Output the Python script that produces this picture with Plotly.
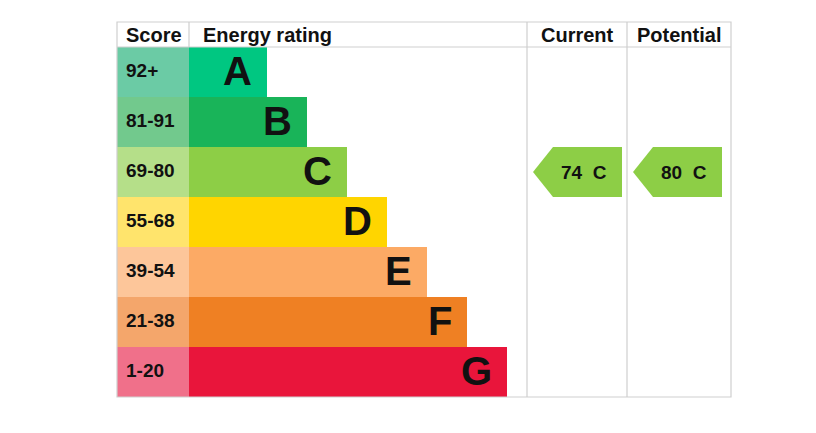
import plotly.graph_objects as go

# ---- data ----
bands = ["A", "B", "C", "D", "E", "F", "G"]
score_ranges = ["92+", "81-91", "69-80", "55-68", "39-54", "21-38", "1-20"]
bar_lengths = [78, 118, 158, 198, 238, 278, 318]
bar_colors = ["#00c781", "#19b459", "#8dce46", "#ffd500", "#fcaa65", "#ef8023", "#e9153b"]
score_colors = ["#6bcba5", "#72c98d", "#b5df89", "#ffe46c", "#fdc69a", "#f4a66b", "#f0708a"]
current_score, current_band = 74, "C"
potential_score, potential_band = 80, "C"
headers = ["Score", "Energy rating", "Current", "Potential"]

# ---- layout constants (pixel-like units on x, row units on y) ----
W, H = 816, 433
PAGE_OFF = 8  # page body margin
TABLE_L, SCORE_R, CUR_L, POT_L, TABLE_R = 117, 189, 527, 627, 731
ROW_PX = 50
TOP_PX = 22
HEADER_PX = 25
first_center_px = TOP_PX + HEADER_PX + ROW_PX / 2
y_min = (PAGE_OFF - first_center_px) / ROW_PX
y_max = (PAGE_OFF + H - first_center_px) / ROW_PX
header_top = -0.5 - HEADER_PX / ROW_PX
header_mid = -0.5 - HEADER_PX / ROW_PX / 2
n = len(bands)
rows = list(range(n))
FONT = "Liberation Sans, Arial, sans-serif"
GRID = "#cfcfcf"

fig = go.Figure()

# score cells
fig.add_trace(go.Bar(
    y=rows, x=[SCORE_R - TABLE_L] * n, base=[TABLE_L] * n, orientation="h",
    width=1, marker=dict(color=score_colors, line=dict(width=0)),
    hoverinfo="skip", showlegend=False,
))
# rating bars
fig.add_trace(go.Bar(
    y=rows, x=bar_lengths, base=[SCORE_R] * n, orientation="h",
    width=1, marker=dict(color=bar_colors, line=dict(width=0)),
    hoverinfo="skip", showlegend=False,
))

annotations = []
for i in rows:
    annotations.append(dict(x=TABLE_L + 7, y=i - 0.03, text=f"<b>{score_ranges[i]}</b>", showarrow=False,
                            xanchor="left", yanchor="middle",
                            font=dict(family=FONT, size=19, color="#111111")))
    annotations.append(dict(x=SCORE_R + bar_lengths[i] - 13, y=i - 0.02, text=f"<b>{bands[i]}</b>",
                            showarrow=False, xanchor="right", yanchor="middle",
                            font=dict(family=FONT, size=40, color="#111111")))

# headers
header_x = [TABLE_L + 7, SCORE_R + 12, (CUR_L + POT_L) / 2, (POT_L + TABLE_R) / 2]
header_anchor = ["left", "left", "center", "center"]
for hx, ht, ha in zip(header_x, headers, header_anchor):
    annotations.append(dict(x=hx, y=header_mid, text=f"<b>{ht}</b>", showarrow=False,
                            xanchor=ha, yanchor="middle",
                            font=dict(family=FONT, size=20, color="#111111")))

# arrows for current / potential
def arrow(col_left, score, band, name):
    r = bands.index(band)
    tip = col_left + 6
    body = col_left + 26
    right = col_left + 95
    xs = [tip, body, right, right, body, tip]
    ys = [r, r - 0.5, r - 0.5, r + 0.5, r + 0.5, r]
    fig.add_trace(go.Scatter(x=xs, y=ys, fill="toself", mode="lines",
                             line=dict(width=0, color=bar_colors[r]),
                             fillcolor=bar_colors[r], hoverinfo="skip",
                             showlegend=False, name=name))
    annotations.append(dict(x=(body + right) / 2 - 4, y=r, text=f"<b>{score}  {band}</b>",
                            showarrow=False, xanchor="center", yanchor="middle",
                            font=dict(family=FONT, size=19, color="#111111")))

arrow(CUR_L, current_score, current_band, "Current")
arrow(POT_L, potential_score, potential_band, "Potential")

# grid lines
shapes = [
    dict(type="rect", x0=TABLE_L, x1=TABLE_R, y0=header_top, y1=n - 0.5,
         line=dict(color=GRID, width=1.2), layer="above"),
    dict(type="line", x0=TABLE_L, x1=TABLE_R, y0=-0.5, y1=-0.5, line=dict(color=GRID, width=1.2)),
    dict(type="line", x0=SCORE_R, x1=SCORE_R, y0=header_top, y1=-0.5, line=dict(color=GRID, width=1.2)),
    dict(type="line", x0=CUR_L, x1=CUR_L, y0=header_top, y1=n - 0.5, line=dict(color=GRID, width=1.2)),
    dict(type="line", x0=POT_L, x1=POT_L, y0=header_top, y1=n - 0.5, line=dict(color=GRID, width=1.2)),
]

fig.update_layout(
    width=W, height=H, margin=dict(l=0, r=0, t=0, b=0),
    paper_bgcolor="white", plot_bgcolor="white",
    barmode="overlay", bargap=0,
    xaxis=dict(range=[PAGE_OFF, PAGE_OFF + W], visible=False, fixedrange=True),
    yaxis=dict(range=[y_max, y_min], visible=False, fixedrange=True),
    annotations=annotations, shapes=shapes, showlegend=False,
)

fig.write_html("out.html")
